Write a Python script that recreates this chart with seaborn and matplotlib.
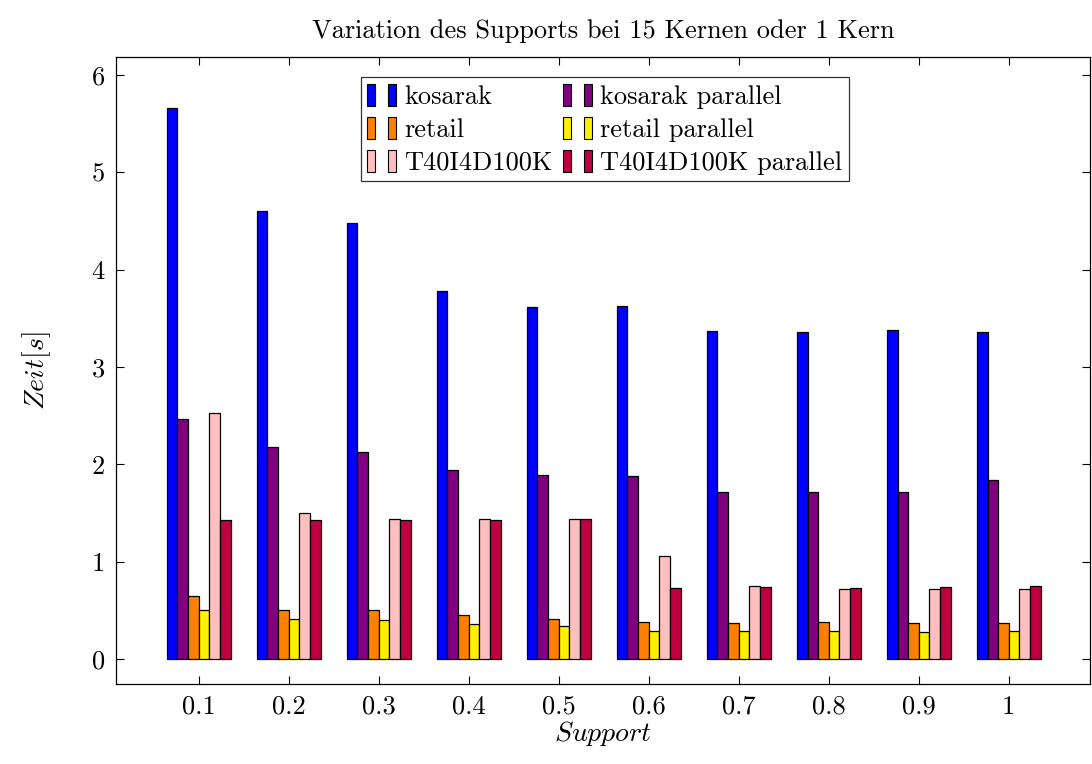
import matplotlib
matplotlib.use("Agg")
import matplotlib.pyplot as plt
import seaborn as sns
import pandas as pd
from matplotlib.patches import Rectangle
from matplotlib.legend_handler import HandlerTuple

supports = ["0.1", "0.2", "0.3", "0.4", "0.5", "0.6", "0.7", "0.8", "0.9", "1"]
series_names = ["kosarak", "kosarak parallel", "retail", "retail parallel",
                "T40I4D100K", "T40I4D100K parallel"]
kosarak = [5.66, 4.60, 4.48, 3.78, 3.62, 3.63, 3.37, 3.36, 3.38, 3.36]
kosarak_par = [2.47, 2.18, 2.13, 1.94, 1.89, 1.88, 1.72, 1.72, 1.72, 1.84]
retail = [0.65, 0.50, 0.50, 0.45, 0.41, 0.38, 0.37, 0.38, 0.37, 0.37]
retail_par = [0.50, 0.41, 0.40, 0.36, 0.34, 0.29, 0.29, 0.29, 0.28, 0.29]
t40 = [2.53, 1.50, 1.44, 1.44, 1.44, 1.06, 0.75, 0.72, 0.72, 0.72]
t40_par = [1.43, 1.43, 1.43, 1.43, 1.44, 0.73, 0.74, 0.73, 0.74, 0.75]
colors = ["#0000FF", "#800080", "#FF8000", "#FFF000", "#FFBFBF", "#BF0040"]

all_series = [kosarak, kosarak_par, retail, retail_par, t40, t40_par]
rows = []
for name, vals in zip(series_names, all_series):
    for s, v in zip(supports, vals):
        rows.append({"Support": s, "Zeit": v, "Serie": name})
df = pd.DataFrame(rows)

sns.set_style("ticks")
plt.rcParams["font.family"] = ["cmr10", "DejaVu Serif"]
plt.rcParams["mathtext.fontset"] = "cm"
plt.rcParams["axes.formatter.use_mathtext"] = True
plt.rcParams["text.color"] = "black"
plt.rcParams["axes.labelcolor"] = "black"
plt.rcParams["xtick.color"] = "black"
plt.rcParams["ytick.color"] = "black"

fig = plt.figure(figsize=(10.92, 7.64), dpi=100)
ax = fig.add_axes([0.1062, 0.1047, 0.8918, 0.8207])

sns.barplot(data=df, x="Support", y="Zeit", hue="Serie", order=supports,
            hue_order=series_names, palette=colors, width=0.71, gap=0,
            edgecolor="black", linewidth=0.9, saturation=1, ax=ax, legend=False)

ax.set_xlim(-0.92, 9.9)
ax.set_ylim(-0.257, 6.185)
ax.set_yticks(range(0, 7))
ax.set_yticklabels([str(i) for i in range(0, 7)])
ax.tick_params(direction="in", length=6, width=0.8, top=True, right=True,
               labelsize=19, colors="black", pad=8)
for sp in ax.spines.values():
    sp.set_visible(True)
    sp.set_linewidth(0.9)
    sp.set_color("black")

ax.set_xlabel("$Support$", fontsize=20, labelpad=0, color="black")
ax.set_ylabel("$Zeit[s]$", fontsize=20, labelpad=28, color="black")
ax.set_title("Variation des Supports bei 15 Kernen oder 1 Kern", fontsize=19,
             pad=14, color="black")

handles = []
for c in colors:
    p1 = Rectangle((0, 0), 1, 1, facecolor=c, edgecolor="black", linewidth=0.8)
    p2 = Rectangle((0, 0), 1, 1, facecolor=c, edgecolor="black", linewidth=0.8)
    handles.append((p1, p2))
# row-major order for a 2-column legend (matplotlib fills column-wise)
order = [0, 2, 4, 1, 3, 5]
leg = ax.legend([handles[i] for i in order], [series_names[i] for i in order],
                ncol=2, loc="upper center",
                bbox_to_anchor=(0.502, 0.968),
                handler_map={tuple: HandlerTuple(ndivide=None, pad=0.5)},
                handlelength=1.1, handleheight=0.9, fontsize=19,
                frameon=True, fancybox=False, edgecolor="black",
                borderpad=0.25, labelspacing=0.3, columnspacing=0.4,
                handletextpad=0.3, borderaxespad=0)
leg.get_frame().set_linewidth(0.9)
for t in leg.get_texts():
    t.set_color("black")

fig.savefig("out.png", dpi=100)
